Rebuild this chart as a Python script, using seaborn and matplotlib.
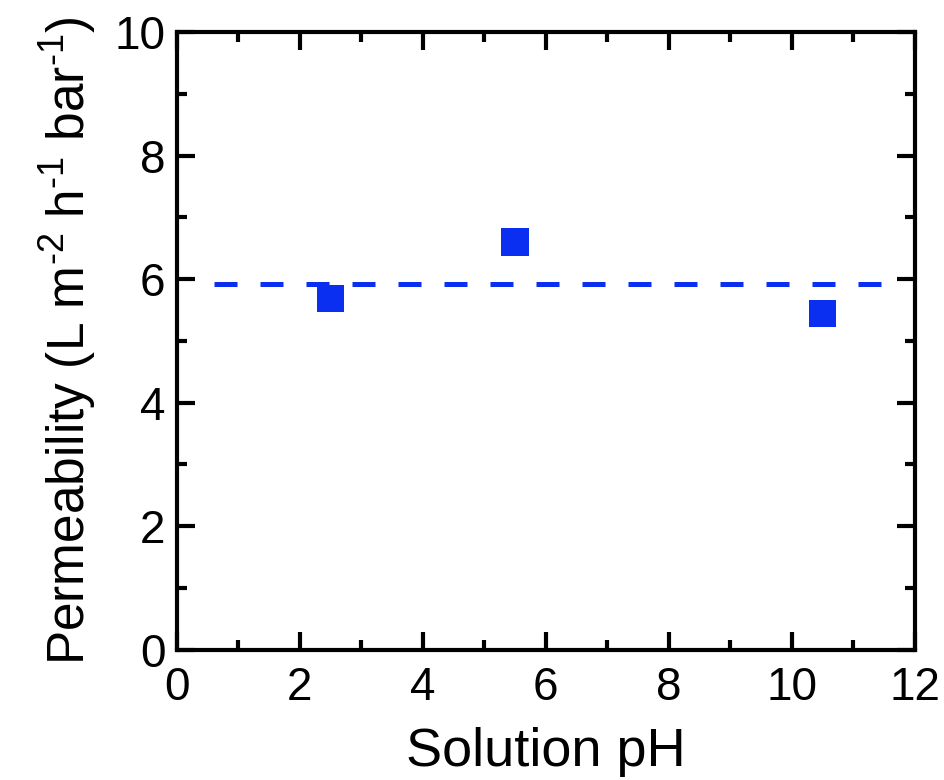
import matplotlib
matplotlib.use("Agg")
import matplotlib.pyplot as plt
from matplotlib.ticker import MultipleLocator
import seaborn as sns
import pandas as pd

# values
solution_ph = [2.5, 5.5, 10.5]
permeability = [5.68, 6.6, 5.45]
avg_x = [0.6, 11.8]
avg_y = [5.92, 5.92]

blue = "#0b2ff0"

sns.set_theme(style="ticks")
plt.rcParams['font.family'] = ['Liberation Sans', 'DejaVu Sans']
plt.rcParams['mathtext.fontset'] = 'custom'
plt.rcParams['mathtext.rm'] = 'Liberation Sans'
plt.rcParams['text.color'] = 'black'
plt.rcParams['axes.labelcolor'] = 'black'
plt.rcParams['xtick.labelcolor'] = 'black'
plt.rcParams['ytick.labelcolor'] = 'black'

df = pd.DataFrame({'pH': solution_ph, 'perm': permeability})
avg_df = pd.DataFrame({'pH': avg_x, 'perm': avg_y})

fig = plt.figure(figsize=(9.45, 7.8), dpi=100)
ax = fig.add_axes([0.187, 0.167, 0.781, 0.792])

sns.lineplot(data=avg_df, x='pH', y='perm', ax=ax, color=blue, linewidth=3.6,
             dashes=False, zorder=2)
ax.lines[0].set_dashes((4.6, 4.6))
ax.lines[0].set_dash_capstyle('butt')
sns.scatterplot(data=df, x='pH', y='perm', ax=ax, marker='s', s=380,
                color=blue, edgecolor='none', zorder=3)

ax.set_xlim(0, 12)
ax.set_ylim(0, 10)
ax.xaxis.set_major_locator(MultipleLocator(2))
ax.xaxis.set_minor_locator(MultipleLocator(1))
ax.yaxis.set_major_locator(MultipleLocator(2))
ax.yaxis.set_minor_locator(MultipleLocator(1))
ax.tick_params(which='both', direction='in', top=True, right=True,
               width=3, color='black', labelcolor='black')
ax.tick_params(which='major', length=13, labelsize=33)
ax.tick_params(axis='x', which='major', pad=12)
ax.tick_params(axis='y', which='major', pad=8)
ax.tick_params(which='minor', length=7)
ax.tick_params(axis='x', labeltop=False)
ax.tick_params(axis='y', labelright=False)
for sp in ax.spines.values():
    sp.set_linewidth(3)
    sp.set_color('black')
    sp.set_visible(True)

ax.set_xlabel('Solution pH', fontsize=39, labelpad=12, color='black')
ax.set_ylabel('Permeability (L m$^{\\mathregular{\\text{-}2}}$ h$^{\\mathregular{\\text{-}1}}$ '
              'bar$^{\\mathregular{\\text{-}1}}$)',
              fontsize=37, labelpad=12, color='black')

fig.savefig('out.png', dpi=100)
